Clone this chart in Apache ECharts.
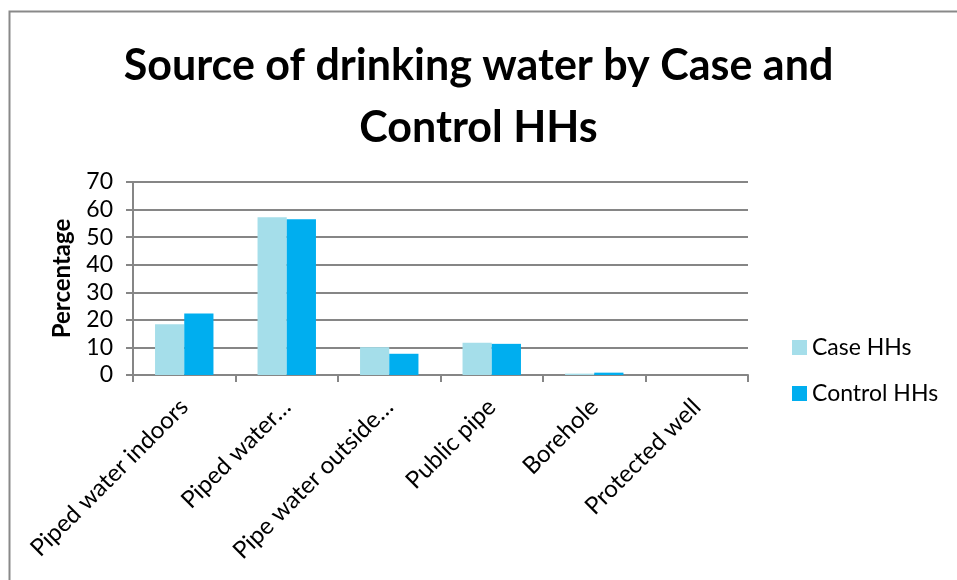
<!DOCTYPE html>
<html>
<head>
<meta charset="utf-8">
<script src="https://cdn.jsdelivr.net/npm/echarts@6/dist/echarts.min.js"></script>
<style>
  html, body { margin: 0; padding: 0; background: #fff; }
  #chart-container { width: 957px; height: 580px; }
</style>
</head>
<body>
<div id="chart-container"></div>
<script>
var categories = ['Piped water indoors', 'Piped water\u2026', 'Pipe water outside\u2026', 'Public pipe', 'Borehole', 'Protected well'];
var caseValues = [18.4, 57.2, 10.1, 11.7, 0.5, 0];
var controlValues = [22.3, 56.5, 7.7, 11.3, 0.85, 0];
var seriesNames = ['Case HHs', 'Control HHs'];

var dom = document.getElementById('chart-container');
var myChart = echarts.init(dom, null, { renderer: 'canvas' });

var font = 'Lato, "DejaVu Sans", sans-serif';

var option = {
    animation: false,
    textStyle: { fontFamily: font },
    graphic: [{
        type: 'rect',
        shape: { x: 9.5, y: 11.5, width: 1000, height: 1000 },
        style: { fill: 'none', stroke: '#898989', lineWidth: 2 },
        silent: true
    }],
    title: {
        text: 'Source of drinking water by Case and\nControl HHs',
        left: 'center',
        top: 30,
        textStyle: {
            fontFamily: font,
            fontSize: 43,
            fontWeight: 'bold',
            color: '#000',
            lineHeight: 62
        }
    },
    legend: {
        orient: 'vertical',
        left: 787,
        top: 331,
        itemWidth: 15,
        itemHeight: 15,
        itemGap: 23,
        icon: 'rect',
        textStyle: { fontFamily: font, fontSize: 23, color: '#000' },
        data: seriesNames
    },
    grid: {
        left: 133,
        right: 209,
        top: 182,
        bottom: 205,
        containLabel: false
    },
    xAxis: {
        type: 'category',
        data: categories,
        axisLine: { lineStyle: { color: '#868686', width: 2 } },
        axisTick: { show: true, length: 7, lineStyle: { color: '#868686', width: 2 } },
        axisLabel: {
            rotate: 45,
            interval: 0,
            margin: 28,
            fontFamily: font,
            fontSize: 24,
            color: '#000'
        }
    },
    yAxis: {
        type: 'value',
        min: 0,
        max: 70,
        interval: 10,
        name: 'Percentage',
        nameLocation: 'middle',
        nameGap: 59,
        nameTextStyle: { fontFamily: font, fontSize: 24, fontWeight: 'bold', color: '#000' },
        axisLine: { show: true, lineStyle: { color: '#868686', width: 2 } },
        axisTick: { show: true, length: 7, lineStyle: { color: '#868686', width: 2 } },
        splitLine: { lineStyle: { color: '#868686', width: 2 } },
        axisLabel: { fontFamily: font, fontSize: 23, color: '#000', margin: 20 }
    },
    series: [{
        name: seriesNames[0],
        type: 'bar',
        data: caseValues,
        barGap: '0%',
        barCategoryGap: '43%',
        itemStyle: { color: '#A5DEEA' }
    }, {
        name: seriesNames[1],
        type: 'bar',
        data: controlValues,
        itemStyle: { color: '#00AEEF' }
    }]
};

myChart.setOption(option);
window.addEventListener('resize', myChart.resize);
</script>
</body>
</html>
